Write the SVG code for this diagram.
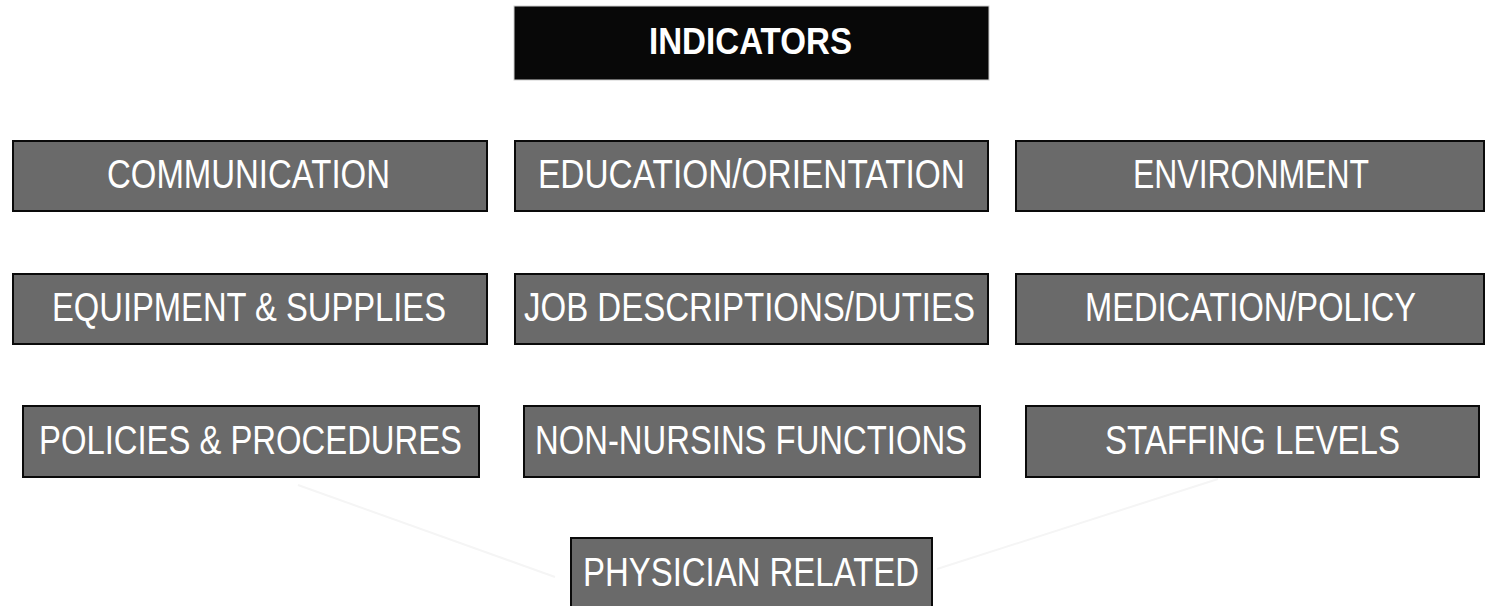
<svg xmlns="http://www.w3.org/2000/svg" width="1486" height="606" viewBox="0 0 1486 606">
<style>
.box{fill:#6a6a6a;stroke:#0a0a0a;stroke-width:2}
.lbl{font-family:"Liberation Sans Narrow","Liberation Sans",Arial,sans-serif;font-size:40px;fill:#ffffff;text-anchor:middle}
.head{fill:#080808;stroke:#d0d0d0;stroke-width:1}
.hlbl{font-family:"Liberation Sans Narrow","Liberation Sans",Arial,sans-serif;font-size:37px;font-weight:bold;fill:#ffffff;text-anchor:middle}
.conn{stroke:#f5f5f5;stroke-width:2;fill:none}
</style>
<rect width="1486" height="606" fill="#ffffff"/>
<g id="connectors">
<path class="conn" d="M298 485 L555 577"/>
<path class="conn" d="M1218 479 L937 569"/>
</g>
<g id="indicators">
<rect class="head" x="514" y="6" width="475" height="74"/>
<text class="hlbl" x="750.5" y="54" textLength="203" lengthAdjust="spacingAndGlyphs">INDICATORS</text>
</g>
<g id="communication">
<rect class="box" x="13" y="141" width="474" height="70"/>
<text class="lbl" x="248.5" y="188" textLength="283" lengthAdjust="spacingAndGlyphs">COMMUNICATION</text>
</g>
<g id="education">
<rect class="box" x="515" y="141" width="473" height="70"/>
<text class="lbl" x="751.5" y="188" textLength="427" lengthAdjust="spacingAndGlyphs">EDUCATION/ORIENTATION</text>
</g>
<g id="environment">
<rect class="box" x="1016" y="141" width="468" height="70"/>
<text class="lbl" x="1251" y="188" textLength="236" lengthAdjust="spacingAndGlyphs">ENVIRONMENT</text>
</g>
<g id="equipment">
<rect class="box" x="13" y="274" width="474" height="70"/>
<text class="lbl" x="249" y="321" textLength="394" lengthAdjust="spacingAndGlyphs">EQUIPMENT &amp; SUPPLIES</text>
</g>
<g id="job">
<rect class="box" x="515" y="274" width="473" height="70"/>
<text class="lbl" x="749.5" y="321" textLength="451" lengthAdjust="spacingAndGlyphs">JOB DESCRIPTIONS/DUTIES</text>
</g>
<g id="medication">
<rect class="box" x="1016" y="274" width="468" height="70"/>
<text class="lbl" x="1250.5" y="321" textLength="331" lengthAdjust="spacingAndGlyphs">MEDICATION/POLICY</text>
</g>
<g id="policies">
<rect class="box" x="23" y="406" width="456" height="71"/>
<text class="lbl" x="250.5" y="454" textLength="423" lengthAdjust="spacingAndGlyphs">POLICIES &amp; PROCEDURES</text>
</g>
<g id="nonnursing">
<rect class="box" x="524" y="406" width="456" height="71"/>
<text class="lbl" x="751" y="454" textLength="432" lengthAdjust="spacingAndGlyphs">NON-NURSINS FUNCTIONS</text>
</g>
<g id="staffing">
<rect class="box" x="1026" y="406" width="453" height="71"/>
<text class="lbl" x="1252.5" y="454" textLength="295" lengthAdjust="spacingAndGlyphs">STAFFING LEVELS</text>
</g>
<g id="physician">
<rect class="box" x="571" y="538" width="361" height="80"/>
<text class="lbl" x="751" y="586" textLength="336" lengthAdjust="spacingAndGlyphs">PHYSICIAN RELATED</text>
</g>
</svg>
